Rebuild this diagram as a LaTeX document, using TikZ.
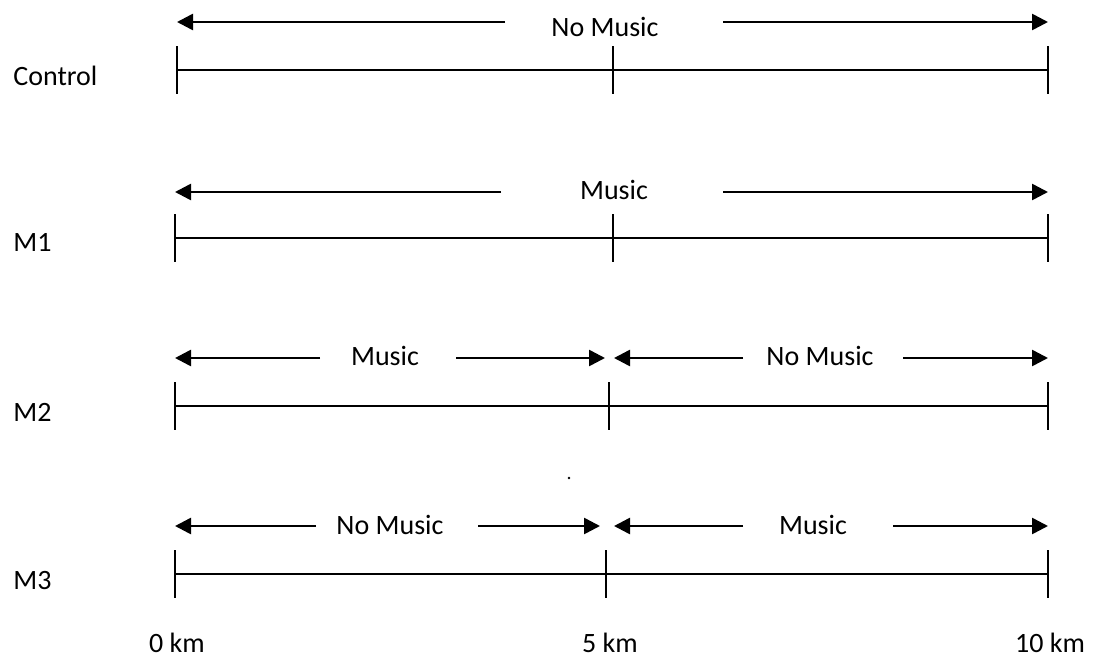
\documentclass[tikz,border=0pt]{standalone}
\usepackage{fontspec}
\setmainfont{Carlito}
\usetikzlibrary{arrows.meta}
\begin{document}
\begin{tikzpicture}[x=0.5pt,y=-0.5pt,
  font=\fontsize{14}{16}\selectfont,
  baseline rule/.style={line width=1pt},
  tickmark/.style={line width=1pt},
  span/.style={line width=1.3pt,-{Triangle[length=8pt,width=8pt]}},
  lbl/.style={anchor=base,inner sep=0pt},
  rowlbl/.style={anchor=base west,inner sep=0pt}]
\useasboundingbox (0,0) rectangle (1097,664);

% ---------- Control ----------
\node[rowlbl] (ctl) at (13,85) {Control};
\node[lbl] (ctlt) at (605,36) {No Music};
\coordinate (ca1) at (505,22); \coordinate (ca0) at (177,22);
\coordinate (ca2) at (723,22); \coordinate (ca3) at (1048,22);
\draw[span] (ca1) -- (ca0);
\draw[span] (ca2) -- (ca3);
\coordinate (cl0) at (177,70); \coordinate (cl10) at (1048,70);
\draw[baseline rule] (cl0) -- (cl10);
\foreach \x/\n in {177/0,613/5,1048/10}{
  \coordinate (ct\n) at (\x,46); \coordinate (cb\n) at (\x,94);
  \draw[tickmark] (ct\n) -- (cb\n);
}

% ---------- M1 ----------
\node[rowlbl] (m1) at (13,251) {M1};
\node[lbl] (m1t) at (614,199) {Music};
\coordinate (p1) at (501,192); \coordinate (p0) at (175,192);
\coordinate (p2) at (723,192); \coordinate (p3) at (1048,192);
\draw[span] (p1) -- (p0);
\draw[span] (p2) -- (p3);
\coordinate (pl0) at (175,238); \coordinate (pl10) at (1048,238);
\draw[baseline rule] (pl0) -- (pl10);
\foreach \x/\n in {175/0,613/5,1048/10}{
  \coordinate (pt\n) at (\x,214); \coordinate (pb\n) at (\x,262);
  \draw[tickmark] (pt\n) -- (pb\n);
}

% ---------- M2 ----------
\node[rowlbl] (m2) at (13,421) {M2};
\node[lbl] (m2a) at (385,365) {Music};
\node[lbl] (m2b) at (820,365) {No Music};
\coordinate (q1) at (320,358); \coordinate (q0) at (175,358);
\coordinate (q2) at (456,358); \coordinate (q3) at (605,358);
\coordinate (q4) at (743,358); \coordinate (q5) at (614,358);
\coordinate (q6) at (903,358); \coordinate (q7) at (1048,358);
\draw[span] (q1) -- (q0);
\draw[span] (q2) -- (q3);
\draw[span] (q4) -- (q5);
\draw[span] (q6) -- (q7);
\coordinate (ql0) at (175,406); \coordinate (ql10) at (1048,406);
\draw[baseline rule] (ql0) -- (ql10);
\foreach \x/\n in {175/0,609/5,1048/10}{
  \coordinate (qt\n) at (\x,382); \coordinate (qb\n) at (\x,430);
  \draw[tickmark] (qt\n) -- (qb\n);
}

% stray full stop between the rows
\fill (569,478) circle[radius=1.3];

% ---------- M3 ----------
\node[rowlbl] (m3) at (13,589) {M3};
\node[lbl] (m3a) at (390,534) {No Music};
\node[lbl] (m3b) at (813,534) {Music};
\coordinate (r1) at (316,526); \coordinate (r0) at (175,526);
\coordinate (r2) at (478,526); \coordinate (r3) at (600,526);
\coordinate (r4) at (743,526); \coordinate (r5) at (614,526);
\coordinate (r6) at (893,526); \coordinate (r7) at (1048,526);
\draw[span] (r1) -- (r0);
\draw[span] (r2) -- (r3);
\draw[span] (r4) -- (r5);
\draw[span] (r6) -- (r7);
\coordinate (rl0) at (175,574); \coordinate (rl10) at (1048,574);
\draw[baseline rule] (rl0) -- (rl10);
\foreach \x/\n in {175/0,606/5,1048/10}{
  \coordinate (rt\n) at (\x,550); \coordinate (rb\n) at (\x,598);
  \draw[tickmark] (rt\n) -- (rb\n);
}

% ---------- distance scale ----------
\node[lbl] (km0) at (177,652) {0 km};
\node[lbl] (km5) at (610,652) {5 km};
\node[lbl] (km10) at (1050,652) {10 km};
\end{tikzpicture}
\end{document}
